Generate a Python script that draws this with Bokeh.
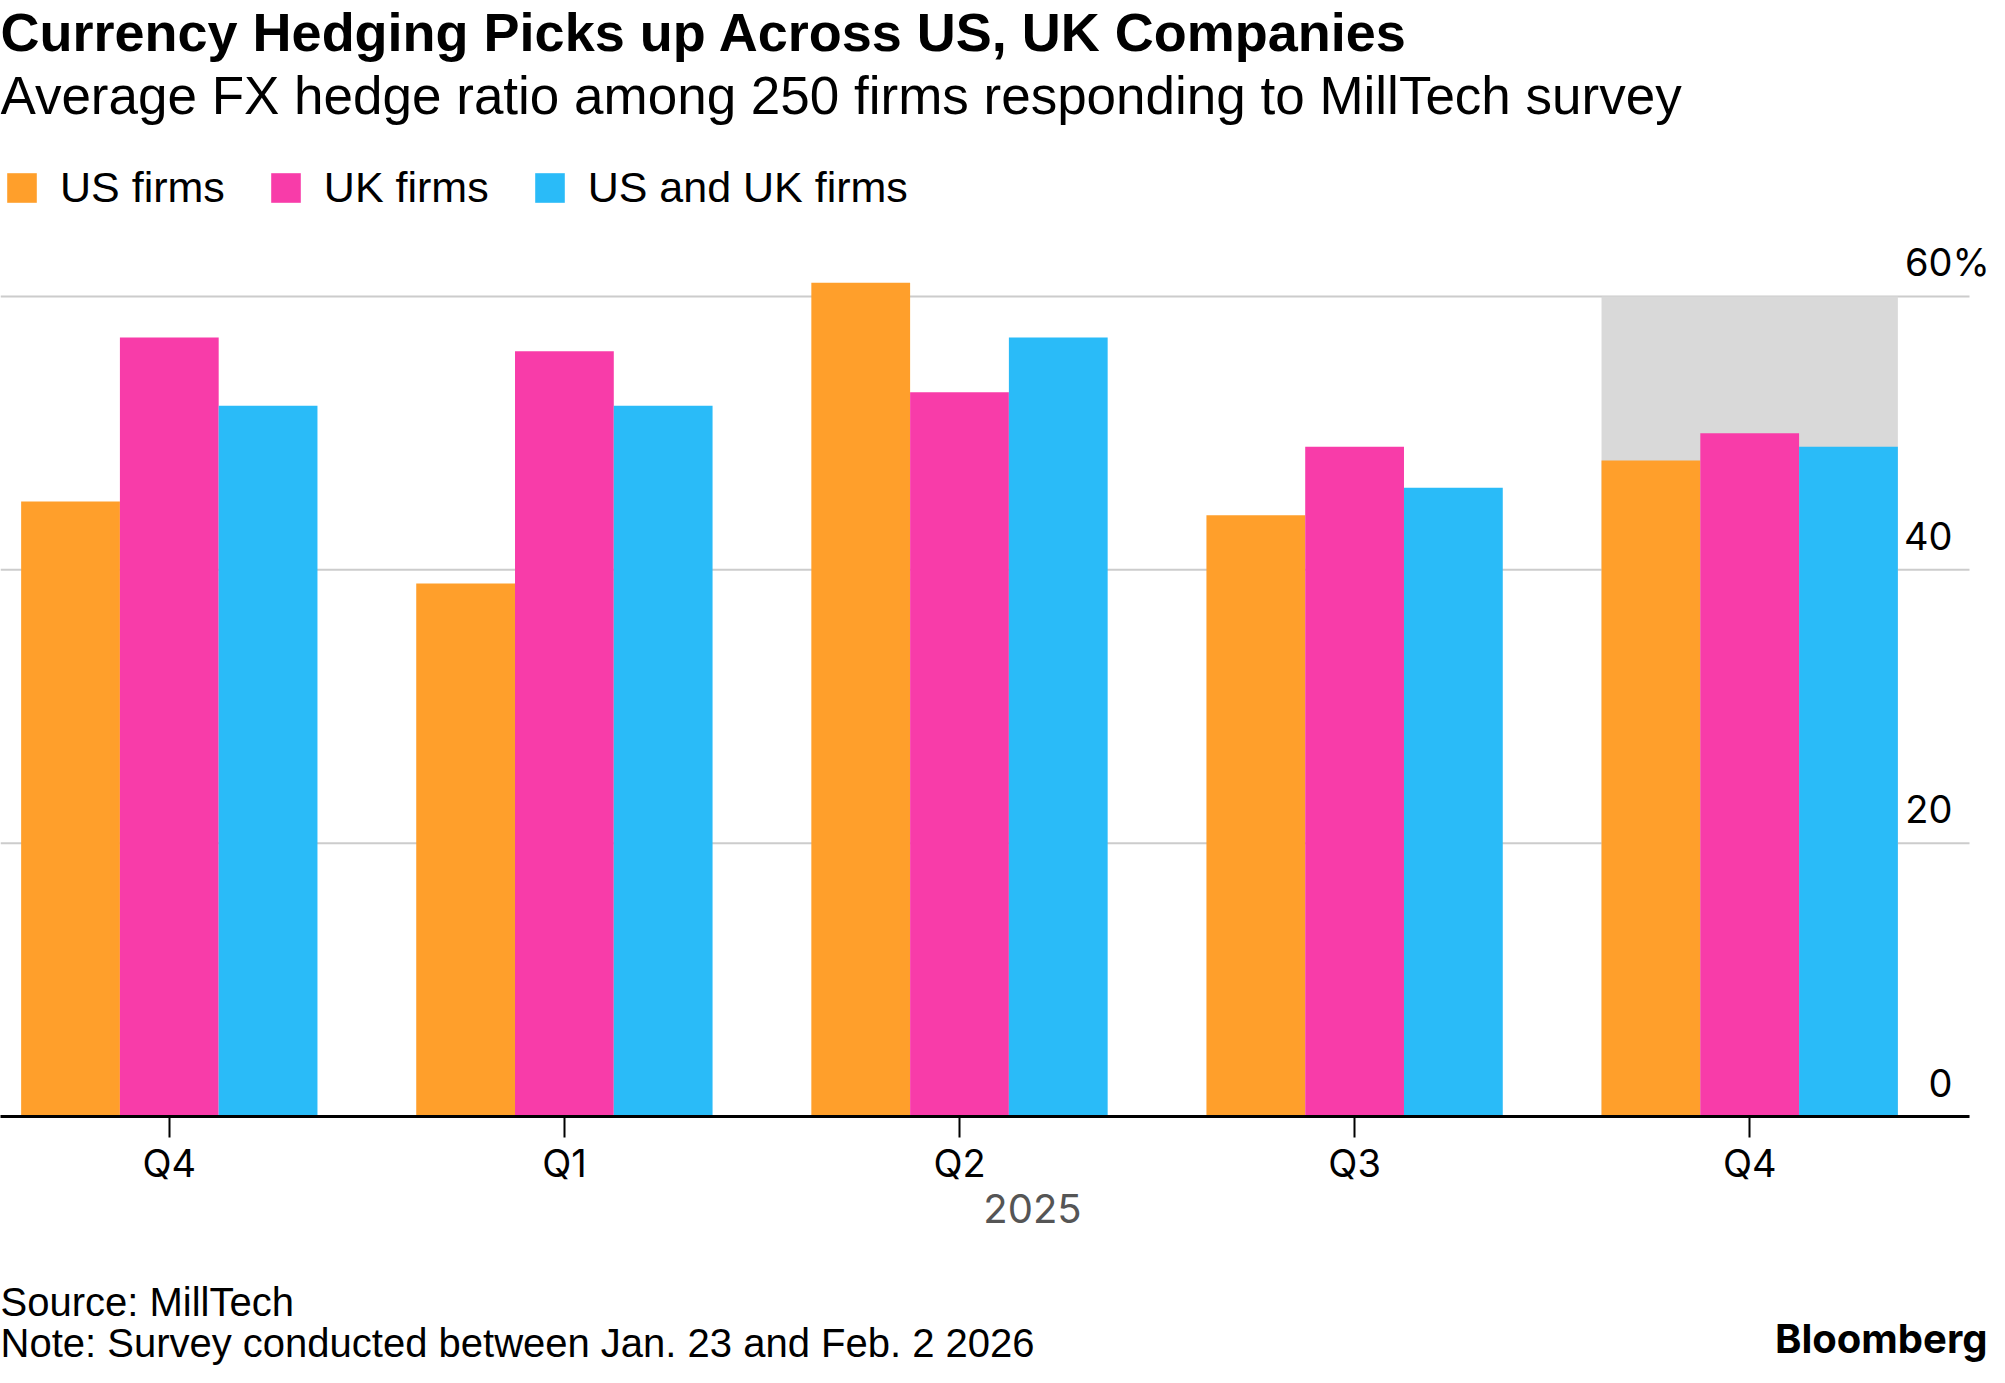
from bokeh.plotting import figure
from bokeh.layouts import column
from bokeh.models import (ColumnDataSource, Range1d, FixedTicker, Label, LabelSet,
                          Legend, LegendItem, LinearAxis)
from bokeh.core.properties import value
from bokeh.transform import dodge
from bokeh.embed import file_html
from bokeh.resources import INLINE

# ---- data ----
quarters = ["Q4", "Q1", "Q2", "Q3", "Q4"]
us_firms = [45, 39, 61, 44, 48]
uk_firms = [57, 56, 53, 49, 50]
us_uk_firms = [52, 52, 57, 46, 49]
y_ticks = [0, 20, 40, 60]
y_tick_labels = ["0", "20", "40", "60"]
y_unit = "%"
highlight_index = [4]
highlight_top = [60]
series_names = ["US firms", "UK firms", "US and UK firms"]
colors = ["#FF9F2B", "#F83CA9", "#2ABBF8"]

title_text = "Currency Hedging Picks up Across US, UK Companies"
subtitle_text = "Average FX hedge ratio among 250 firms responding to MillTech survey"
year_text = "2025"
source_text = "Source: MillTech"
note_text = "Note: Survey conducted between Jan. 23 and Feb. 2 2026"
brand_text = "Bloomberg"

# ---- layout constants ----
W = 1989
H_MAIN = 1250
H_FOOT = 1367 - H_MAIN
FRAME_BOTTOM = 1116
PX_X = 395.1
PX_Y = 13.667
X0 = -168.8 / PX_X
X1 = X0 + W / PX_X
XG = X0 + 1969 / PX_X
Y1 = FRAME_BOTTOM / PX_Y
YEAR_POS = X0 + 1032 / PX_X

src = ColumnDataSource(dict(x=list(range(len(quarters))), us=us_firms, uk=uk_firms, both=us_uk_firms))

p = figure(width=W, height=H_MAIN, output_backend="svg", toolbar_location=None,
           x_range=Range1d(X0, X1), y_range=Range1d(0, Y1),
           y_axis_location=None, title=None,
           min_border_left=0, min_border_right=0, min_border_top=0,
           min_border_bottom=H_MAIN - FRAME_BOTTOM)
p.outline_line_color = None
p.background_fill_color = "white"
p.border_fill_color = "white"
p.grid.visible = False

# gridlines (stop at the plot's right edge, as in the reference)
gsrc = ColumnDataSource(dict(x0=[X0] * len(y_ticks), x1=[XG] * len(y_ticks), y=y_ticks))
p.segment(x0="x0", x1="x1", y0="y", y1="y", source=gsrc, line_color="#CCCCCC", line_width=2)

# highlight box
p.vbar(x=highlight_index, top=highlight_top, bottom=0, width=0.75,
       fill_color="#D9D9D9", line_color=None)

bw = 0.25
r_us = p.vbar(x=dodge("x", -bw, range=p.x_range), top="us", width=bw, source=src,
              fill_color=colors[0], line_color=None)
r_uk = p.vbar(x=dodge("x", 0, range=p.x_range), top="uk", width=bw, source=src,
              fill_color=colors[1], line_color=None)
r_both = p.vbar(x=dodge("x", bw, range=p.x_range), top="both", width=bw, source=src,
                fill_color=colors[2], line_color=None)

# x axis (quarters)
xa = p.xaxis[0]
xa.ticker = FixedTicker(ticks=list(range(len(quarters))))
xa.major_label_overrides = {i: q for i, q in enumerate(quarters)}
xa.bounds = (X0, XG)
xa.axis_line_color = "black"
xa.axis_line_width = 3
xa.major_tick_line_color = "black"
xa.major_tick_line_width = 2
xa.major_tick_out = 21
xa.major_tick_in = 0
xa.minor_tick_line_color = None
xa.major_label_text_font = "Inter"
xa.major_label_text_font_size = "38px"
xa.major_label_text_color = "black"
xa.major_label_standoff = 2

# second x axis row: the year
ya = LinearAxis(ticker=FixedTicker(ticks=[YEAR_POS]), major_label_overrides={YEAR_POS: year_text},
                axis_line_color=None, major_tick_line_color=None, minor_tick_line_color=None,
                major_tick_out=0, major_tick_in=0, major_label_standoff=5,
                major_label_text_font="Inter", major_label_text_font_size="40px",
                major_label_text_color="#555555")
p.add_layout(ya, "below")

# y tick labels above gridlines, right-aligned, with the unit hanging after the top one
ysrc = ColumnDataSource(dict(x=[XG] * len(y_ticks), y=y_ticks, t=y_tick_labels))
p.add_layout(LabelSet(x="x", y="y", text="t", source=ysrc, x_offset=-17, y_offset=20,
                      text_align="right", text_baseline="alphabetic",
                      text_font=value("Inter"), text_font_size=value("38px"),
                      text_color=value("black")))
usrc = ColumnDataSource(dict(x=[XG], y=[y_ticks[-1]], t=[y_unit]))
p.add_layout(LabelSet(x="x", y="y", text="t", source=usrc, x_offset=-17, y_offset=20,
                      text_align="left", text_baseline="alphabetic",
                      text_font=value("Inter"), text_font_size=value("38px"),
                      text_color=value("black")))

# legend
legend = Legend(items=[LegendItem(label=series_names[0], renderers=[r_us]),
                       LegendItem(label=series_names[1], renderers=[r_uk]),
                       LegendItem(label=series_names[2], renderers=[r_both])],
                orientation="horizontal", location=(3, FRAME_BOTTOM - 212),
                padding=0, margin=0, border_line_color=None, background_fill_alpha=0,
                glyph_width=37, glyph_height=37, label_standoff=20, spacing=42,
                label_text_font="Liberation Sans", label_text_font_size="43px",
                label_text_color="black", label_height=37)
p.add_layout(legend, "center")

def txt(fig, text, x, y, size, font="Liberation Sans", style="normal", color="black",
        align="left", units="screen"):
    fig.add_layout(Label(x=x, y=y, x_units=units, y_units=units, text=text,
                         text_font=font, text_font_size=size, text_font_style=style,
                         text_color=color, text_align=align, text_baseline="alphabetic"))

txt(p, title_text, 0, FRAME_BOTTOM - 31, "54px", style="bold")
txt(p, subtitle_text, 0, FRAME_BOTTOM - 95, "53px")

# footer
f = figure(width=W, height=H_FOOT, output_backend="svg", toolbar_location=None,
           x_range=Range1d(0, W), y_range=Range1d(H_FOOT, 0),
           x_axis_location=None, y_axis_location=None, title=None,
           min_border_left=0, min_border_right=0, min_border_top=0, min_border_bottom=0)
f.outline_line_color = None
f.grid.visible = False
f.background_fill_color = "white"
f.border_fill_color = "white"
txt(f, source_text, 0, 1301 - H_MAIN, "40px", units="data")
txt(f, note_text, 0, 1342 - H_MAIN, "40px", units="data")
txt(f, brand_text, 1987, 1338 - H_MAIN, "40px", font="Inter", style="bold", align="right", units="data")

layout = column(p, f, spacing=0)
open("out.html", "w").write(file_html(layout, INLINE))
